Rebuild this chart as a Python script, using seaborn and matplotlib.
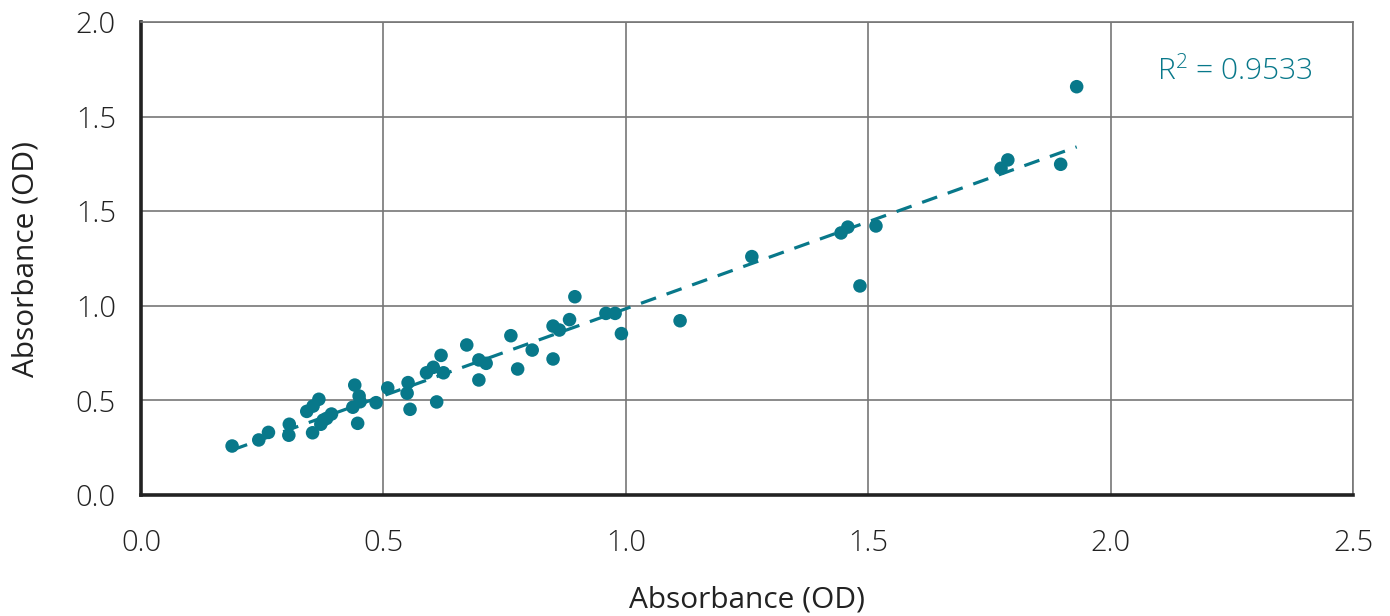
import numpy as np
import pandas as pd
import seaborn as sns
import matplotlib.pyplot as plt

# absorbance readings, method A (x) vs method B (y)
od_x = [0.188, 0.243, 0.263, 0.306, 0.305, 0.342, 0.355, 0.367, 0.354, 0.371,
        0.376, 0.393, 0.383, 0.441, 0.450, 0.452, 0.437, 0.447, 0.485, 0.509,
        0.551, 0.549, 0.555, 0.589, 0.603, 0.619, 0.624, 0.610, 0.672, 0.697,
        0.712, 0.697, 0.763, 0.777, 0.807, 0.850, 0.863, 0.850, 0.884, 0.895,
        0.959, 0.978, 0.991, 1.112, 1.260, 1.444, 1.458, 1.483, 1.516, 1.774,
        1.788, 1.897, 1.930]
od_y = [0.259, 0.291, 0.331, 0.374, 0.316, 0.442, 0.470, 0.506, 0.329, 0.374,
        0.396, 0.428, 0.405, 0.581, 0.523, 0.493, 0.464, 0.379, 0.488, 0.566,
        0.594, 0.538, 0.453, 0.646, 0.675, 0.738, 0.646, 0.492, 0.793, 0.714,
        0.696, 0.608, 0.842, 0.666, 0.766, 0.893, 0.872, 0.719, 0.927, 1.048,
        0.960, 0.960, 0.853, 0.921, 1.260, 1.385, 1.416, 1.105, 1.422, 1.727,
        1.771, 1.748, 2.158]

x_ticks = [0.0, 0.5, 1.0, 1.5, 2.0, 2.5]
x_tick_labels = ["0.0", "0.5", "1.0", "1.5", "2.0", "2.5"]
y_ticks = [0.0, 0.5, 1.0, 1.5, 2.0, 2.5]
y_tick_labels = ["0.0", "0.5", "1.0", "1.5", "1.5", "2.0"]
r2_text = "R$^2$ = 0.9533"

teal = "#08788a"

df = pd.DataFrame({"x": od_x, "y": od_y})

sns.set_style("white")
plt.rcParams["font.family"] = ["Open Sans", "DejaVu Sans"]
plt.rcParams["font.weight"] = "light"
plt.rcParams["mathtext.default"] = "regular"

fig = plt.figure(figsize=(13.9, 6.16), dpi=100)
ax = fig.add_axes([0.1014, 0.1964, 0.872, 0.7679])

sns.regplot(data=df, x="x", y="y", scatter=False, ci=None, truncate=True,
            color=teal, line_kws={"lw": 2.3, "dashes": (5, 3.5)}, ax=ax)
sns.scatterplot(data=df, x="x", y="y", color=teal, s=95, edgecolor="none",
                ax=ax, zorder=3)

ax.set_xlim(0, 2.5)
ax.set_ylim(0, 2.5)
ax.set_xticks(x_ticks)
ax.set_xticklabels(x_tick_labels)
ax.set_yticks(y_ticks)
ax.set_yticklabels(y_tick_labels)
ax.tick_params(axis="both", length=0, labelsize=21, colors="#222222")
ax.tick_params(axis="x", pad=24)
ax.tick_params(axis="y", pad=18)

ax.grid(True, color="#777777", lw=1.2)
ax.set_axisbelow(True)
for side in ["top", "right"]:
    ax.spines[side].set_color("#777777")
    ax.spines[side].set_linewidth(1.2)
for side in ["left", "bottom"]:
    ax.spines[side].set_color("#222222")
    ax.spines[side].set_linewidth(2.6)

ax.set_xlabel("Absorbance (OD)", fontsize=21.5, color="#222222", labelpad=20)
ax.set_ylabel("Absorbance (OD)", fontsize=21.5, color="#222222", labelpad=25)

ax.text(2.257, 2.236, r2_text, color=teal, fontsize=21.5, ha="center", va="center")

fig.savefig("out.png", dpi=100)
